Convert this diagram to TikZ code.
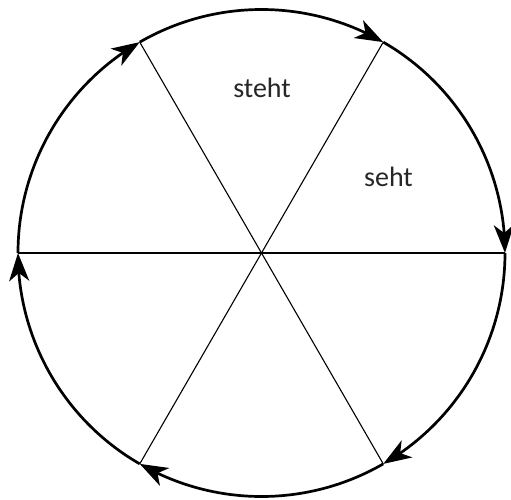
\documentclass[tikz,border=0pt]{standalone}
\usepackage{fontspec}
\setmainfont{Carlito}
\usetikzlibrary{arrows.meta,bending}
\begin{document}
\begin{tikzpicture}[x=1pt,y=1pt,
  arcline/.style={line width=2.7pt,-{Stealth[length=28pt,width=20pt,inset=8pt]}},
  spoke/.style={line width=1.1pt},
  lbl/.style={font=\fontsize{28}{32}\selectfont, anchor=base, inner sep=0pt, text=black!85}]
\useasboundingbox (-261.5,-246) rectangle (249.5,253);
\def\R{243.5}
\foreach \a in {0,60,120,180,240,300}{\coordinate (p\a) at (\a:\R);}
\draw[spoke] (p0) -- (p180);
\draw[spoke] (p60) -- (p240);
\draw[spoke] (p120) -- (p300);
\draw[arcline] (p60) arc[start angle=60,end angle=0,radius=\R];
\draw[arcline] (p120) arc[start angle=120,end angle=60,radius=\R];
\draw[arcline] (p180) arc[start angle=180,end angle=120,radius=\R];
\draw[arcline] (p240) arc[start angle=240,end angle=180,radius=\R];
\draw[arcline] (p300) arc[start angle=300,end angle=240,radius=\R];
\draw[arcline] (p0) arc[start angle=360,end angle=300,radius=\R];
\node[lbl] (steht) at (0.5,156) {steht};
\node[lbl] (seht) at (127,67) {seht};
\end{tikzpicture}
\end{document}
